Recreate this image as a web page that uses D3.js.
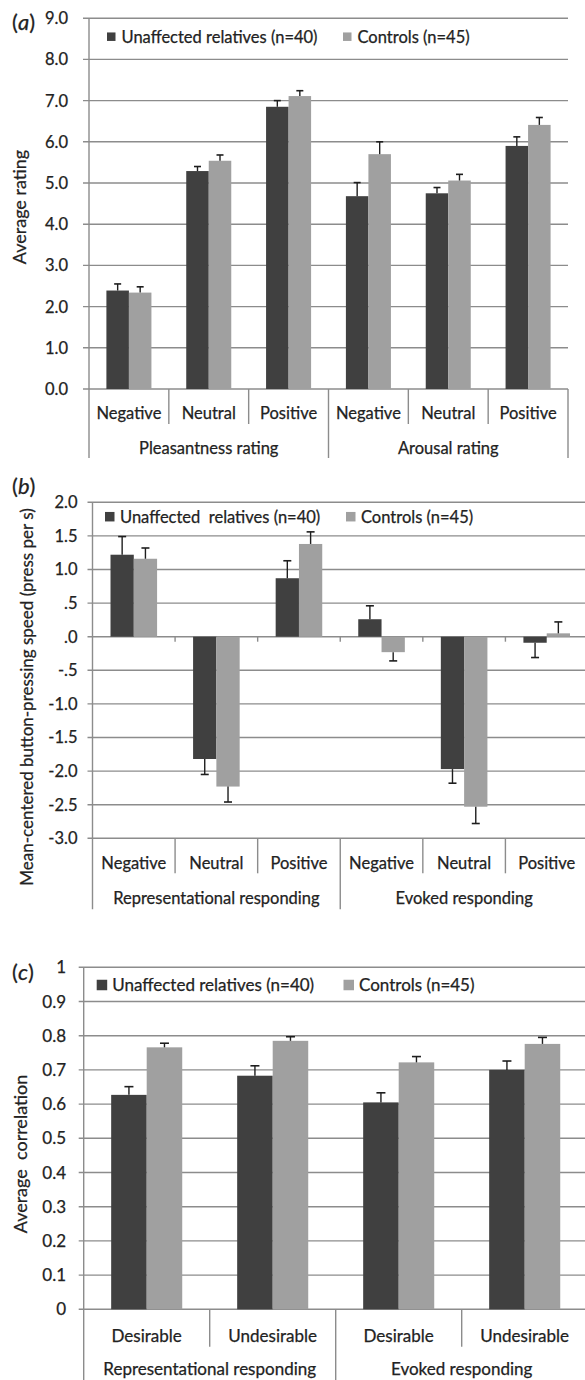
<!DOCTYPE html>
<html><head><meta charset="utf-8">
<script src="https://cdn.jsdelivr.net/npm/d3@7"></script>
<style>
body{margin:0;background:#fff}
svg{display:block}
text{font-family:Lato,"Open Sans",sans-serif;fill:#222;white-space:pre;stroke:#222;stroke-width:0.25px}
</style>
</head><body>
<svg id="chart" width="585" height="1380"></svg>
<script>
// ---------- data ----------
const seriesNames = ["Unaffected relatives (n=40)", "Controls (n=45)"];
const seriesNamesB = ["Unaffected  relatives (n=40)", "Controls (n=45)"];

// panel (a)
const aCategories = ["Negative", "Neutral", "Positive", "Negative", "Neutral", "Positive"];
const aGroups = ["Pleasantness rating", "Arousal rating"];
const aRelatives = [2.39, 5.29, 6.85, 4.68, 4.75, 5.90];
const aRelativesErr = [0.16, 0.11, 0.15, 0.33, 0.14, 0.22];
const aControls = [2.34, 5.54, 7.11, 5.70, 5.06, 6.41];
const aControlsErr = [0.14, 0.14, 0.13, 0.30, 0.15, 0.18];
const aTicks = [0, 1, 2, 3, 4, 5, 6, 7, 8, 9];
const aTickLabels = ["0.0", "1.0", "2.0", "3.0", "4.0", "5.0", "6.0", "7.0", "8.0", "9.0"];
const aTitle = "Average rating";

// panel (b)
const bCategories = ["Negative", "Neutral", "Positive", "Negative", "Neutral", "Positive"];
const bGroups = ["Representational responding", "Evoked responding"];
const bRelatives = [1.22, -1.82, 0.87, 0.26, -1.97, -0.09];
const bRelativesErr = [0.27, 0.23, 0.26, 0.20, 0.21, 0.22];
const bControls = [1.16, -2.23, 1.38, -0.23, -2.53, 0.05];
const bControlsErr = [0.16, 0.23, 0.18, 0.13, 0.25, 0.17];
const bTicks = [-3, -2.5, -2, -1.5, -1, -0.5, 0, 0.5, 1, 1.5, 2];
const bTickLabels = ["-3.0", "-2.5", "-2.0", "-1.5", "-1.0", "-.5", ".0", ".5", "1.0", "1.5", "2.0"];
const bTitle = "Mean-centered button-pressing speed (press per s)";

// panel (c)
const cCategories = ["Desirable", "Undesirable", "Desirable", "Undesirable"];
const cGroups = ["Representational responding", "Evoked responding"];
const cRelatives = [0.627, 0.683, 0.605, 0.700];
const cRelativesErr = [0.024, 0.029, 0.028, 0.026];
const cControls = [0.766, 0.785, 0.722, 0.776];
const cControlsErr = [0.012, 0.012, 0.017, 0.019];
const cTicks = [0, 0.1, 0.2, 0.3, 0.4, 0.5, 0.6, 0.7, 0.8, 0.9, 1];
const cTickLabels = ["0", "0.1", "0.2", "0.3", "0.4", "0.5", "0.6", "0.7", "0.8", "0.9", "1"];
const cTitle = "Average  correlation";

// ---------- styles ----------
const colors = ["#404040", "#a0a0a0"];
const gridColor = "#8c8c8c";
const errColor = "#1e1e1e";
const svg = d3.select("#chart");

function drawPanel(o) {
  const g = svg.append("g");
  const n = o.categories.length;
  const x = d3.scaleBand().domain(d3.range(n)).range([o.x0, o.x1]).padding(0);
  const y = d3.scaleLinear().domain(o.domain).range([o.yBottom, o.yTop]);
  const step = x.step();
  const bw = step * 0.282;
  const yBase = y(o.domain[0]);

  // gridlines (with outward tick)
  g.selectAll(".grid").data(o.ticks).join("line")
    .attr("x1", o.x0 - o.tickLen).attr("x2", o.x1)
    .attr("y1", d => y(d)).attr("y2", d => y(d))
    .attr("stroke", gridColor).attr("stroke-width", 1.4);

  // tick labels
  g.selectAll(".tl").data(o.ticks).join("text")
    .attr("x", o.labelRight).attr("y", d => y(d)).attr("dy", "0.36em")
    .attr("text-anchor", "end").attr("font-size", o.fs)
    .text((d, i) => o.tickLabels[i]);

  // left axis line
  g.append("line").attr("x1", o.x0).attr("x2", o.x0)
    .attr("y1", y(o.domain[1])).attr("y2", yBase + o.grpDiv)
    .attr("stroke", gridColor).attr("stroke-width", 1.4);

  // zero line ticks (for panels with negative values)
  if (o.domain[0] < 0) {
    g.selectAll(".zt").data(d3.range(1, n + 1)).join("line")
      .attr("x1", d => o.x0 + d * step).attr("x2", d => o.x0 + d * step)
      .attr("y1", y(0)).attr("y2", y(0) + 5)
      .attr("stroke", gridColor).attr("stroke-width", 1.4);
  }

  // category dividers
  const per = n / o.groups.length;
  g.selectAll(".cd").data(d3.range(1, n + 1)).join("line")
    .attr("x1", d => o.x0 + d * step).attr("x2", d => o.x0 + d * step)
    .attr("y1", yBase).attr("y2", d => yBase + (d % per === 0 ? o.grpDiv : o.catDiv))
    .attr("stroke", gridColor).attr("stroke-width", 1.4);

  // category labels
  g.selectAll(".cl").data(o.categories).join("text")
    .attr("x", (d, i) => x(i) + step / 2).attr("y", yBase + o.catOff).attr("dy", "0.36em")
    .attr("text-anchor", "middle").attr("font-size", o.fs).text(d => d);

  // group labels
  g.selectAll(".gl").data(o.groups).join("text")
    .attr("x", (d, i) => o.x0 + (i + 0.5) * per * step).attr("y", yBase + o.grpOff).attr("dy", "0.36em")
    .attr("text-anchor", "middle").attr("font-size", o.fs).text(d => d);

  // bars
  const series = [[o.s1, o.e1], [o.s2, o.e2]];
  series.forEach(([vals, errs], si) => {
    const bx = i => x(i) + step / 2 - bw + si * bw;
    g.selectAll(".bar" + si).data(vals).join("rect")
      .attr("x", (d, i) => bx(i)).attr("width", bw)
      .attr("y", d => Math.min(y(d), y(0))).attr("height", d => Math.abs(y(d) - y(0)))
      .attr("fill", colors[si]);
    // error bars
    const eg = g.selectAll(".err" + si).data(vals).join("g");
    eg.append("line")
      .attr("x1", (d, i) => bx(i) + bw / 2).attr("x2", (d, i) => bx(i) + bw / 2)
      .attr("y1", d => y(d)).attr("y2", (d, i) => y(d + Math.sign(d || 1) * errs[i]))
      .attr("stroke", errColor).attr("stroke-width", 1.4);
    eg.append("line")
      .attr("x1", (d, i) => bx(i) + bw / 2 - o.cap / 2).attr("x2", (d, i) => bx(i) + bw / 2 + o.cap / 2)
      .attr("y1", (d, i) => y(d + Math.sign(d || 1) * errs[i])).attr("y2", (d, i) => y(d + Math.sign(d || 1) * errs[i]))
      .attr("stroke", errColor).attr("stroke-width", 1.6);
  });

  // legend
  o.legendNames.forEach((name, i) => {
    const lx = o.legX[i];
    g.append("rect").attr("x", lx).attr("y", o.legY - o.sq / 2).attr("width", o.sq).attr("height", o.sq)
      .attr("fill", colors[i]);
    g.append("text").attr("x", lx + o.sq + o.legGap).attr("y", o.legY).attr("dy", "0.36em")
      .attr("font-size", o.fs).text(name);
  });

  // y title
  g.append("text")
    .attr("transform", `translate(${o.titleX},${o.titleY}) rotate(-90)`)
    .attr("text-anchor", "middle").attr("dy", "0.36em")
    .attr("font-size", o.titleFs).text(o.title);

  // panel letter
  const lt = g.append("text").attr("x", 12).attr("y", o.letterY).attr("font-size", 22);
  lt.append("tspan").text("(");
  lt.append("tspan").attr("font-style", "italic").text(o.letter);
  lt.append("tspan").text(")");
}

drawPanel({
  categories: aCategories, groups: aGroups, s1: aRelatives, e1: aRelativesErr, s2: aControls, e2: aControlsErr,
  ticks: aTicks, tickLabels: aTickLabels, title: aTitle, letter: "a", legendNames: seriesNames,
  x0: 89, x1: 568, domain: [0, 9], yBottom: 389, yTop: 18.2, tickLen: 6, labelRight: 68,
  catOff: 24, catDiv: 35, grpOff: 59, grpDiv: 69, fs: 16.5, cap: 7,
  legY: 36.7, legX: [107, 343], sq: 8.5, legGap: 6,
  titleX: 20, titleY: 207, titleFs: 18, letterY: 30
});

drawPanel({
  categories: bCategories, groups: bGroups, s1: bRelatives, e1: bRelativesErr, s2: bControls, e2: bControlsErr,
  ticks: bTicks, tickLabels: bTickLabels, title: bTitle, letter: "b", legendNames: seriesNamesB,
  x0: 92.5, x1: 588, domain: [-3, 2], yBottom: 838.3, yTop: 502.3, tickLen: 5, labelRight: 77.5,
  catOff: 24.4, catDiv: 35, grpOff: 60, grpDiv: 71, fs: 16.5, cap: 8,
  legY: 516.7, legX: [105, 346], sq: 9.5, legGap: 5.5,
  titleX: 27, titleY: 697, titleFs: 17, letterY: 494
});

drawPanel({
  categories: cCategories, groups: cGroups, s1: cRelatives, e1: cRelativesErr, s2: cControls, e2: cControlsErr,
  ticks: cTicks, tickLabels: cTickLabels, title: cTitle, letter: "c", legendNames: seriesNames,
  x0: 83.7, x1: 587.7, domain: [0, 1], yBottom: 1309.3, yTop: 967.3, tickLen: 5, labelRight: 66,
  catOff: 27, catDiv: 37.5, grpOff: 59.5, grpDiv: 75, fs: 17, cap: 9,
  legY: 985, legX: [96.7, 343.5], sq: 10.5, legGap: 5,
  titleX: 21, titleY: 1154, titleFs: 18, letterY: 980
});
</script>
</body></html>
